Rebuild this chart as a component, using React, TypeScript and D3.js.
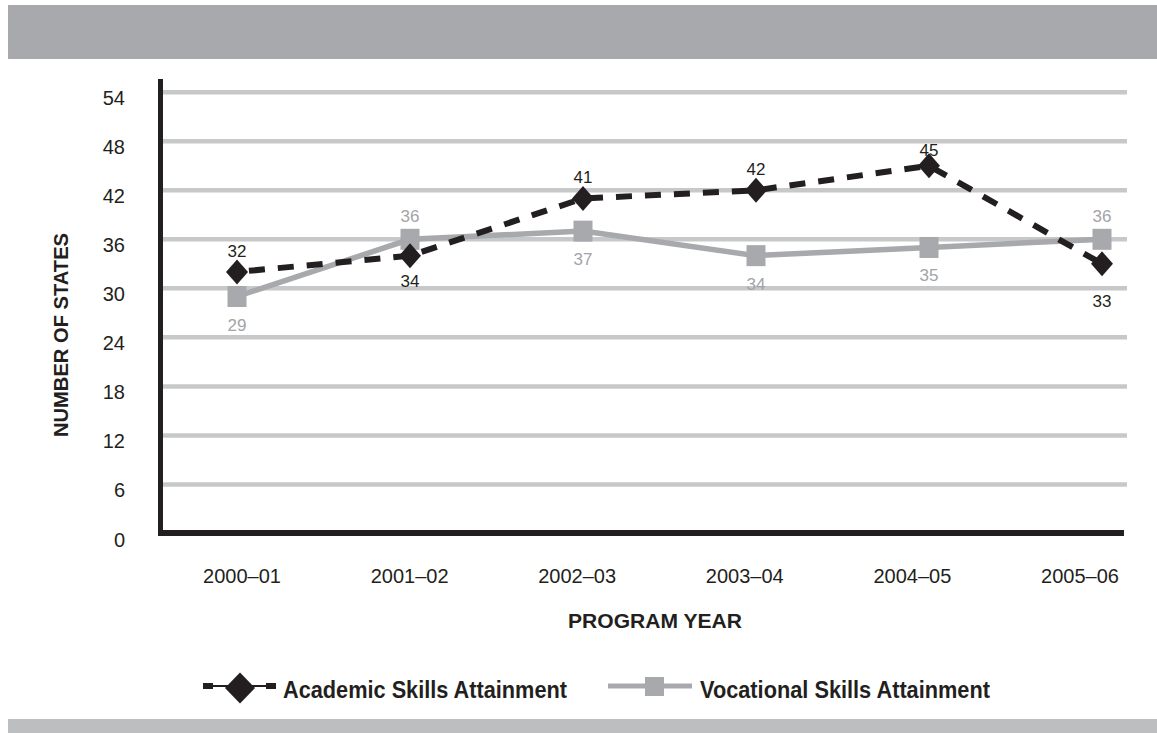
import React from "react";
import * as d3 from "d3";

const years = ["2000–01", "2001–02", "2002–03", "2003–04", "2004–05", "2005–06"];
const academic = [32, 34, 41, 42, 45, 33];
const vocational = [29, 36, 37, 34, 35, 36];
const yTicks = [0, 6, 12, 18, 24, 30, 36, 42, 48, 54];
const academicLabelPos = ["above", "below", "above", "above", "above", "below"];
const vocationalLabelPos = ["below", "above", "below", "below", "below", "above"];

const W = 1157;
const H = 733;
const FONT = "'Liberation Sans', Arial, Helvetica, sans-serif";
const DARK = "#231f20";
const GRAY = "#a7a9ac";
const GRID = "#c7c8ca";

export default function App() {
  const x = d3.scalePoint<string>().domain(years).range([237, 1102]);
  const xLabel = d3.scalePoint<string>().domain(years).range([242, 1080]);
  const y = d3.scaleLinear().domain([0, 54]).range([533.5, 92.2]);

  const lineA = d3
    .line<number>()
    .x((_, i) => x(years[i]) as number)
    .y((d) => y(d));

  const diamond = (cx: number, cy: number, w: number, h: number) =>
    `M${cx},${cy - h / 2}L${cx + w / 2},${cy}L${cx},${cy + h / 2}L${cx - w / 2},${cy}Z`;

  const dyAcad = (pos: string, v: number) => {
    if (pos === "above") return v === 45 ? -10 : -15;
    return v === 33 ? 43 : 31;
  };
  const dyVoc = (pos: string) => (pos === "above" ? -17 : 34);

  return (
    <svg
      width={W}
      height={H}
      style={{ position: "absolute", left: 0, top: 0, background: "#fff" }}
      fontFamily={FONT}
    >
      <rect x={8} y={5} width={W - 8} height={54} fill="#a7a9ac" />
      <rect x={8} y={719} width={W - 8} height={14} fill="#bcbec0" />

      {/* gridlines */}
      {yTicks
        .filter((t) => t > 0)
        .map((t) => (
          <line key={t} x1={163} x2={1127} y1={y(t)} y2={y(t)} stroke={GRID} strokeWidth={4.5} />
        ))}

      {/* axes */}
      <line x1={160.5} x2={160.5} y1={79} y2={536} stroke={DARK} strokeWidth={5} />
      <line x1={158} x2={1124} y1={533} y2={533} stroke={DARK} strokeWidth={6} />

      {/* y tick labels */}
      {yTicks.map((t) => (
        <text key={t} x={125} y={y(t) + 6 + 7} textAnchor="end" fontSize={20} fill={DARK}>
          {t}
        </text>
      ))}

      {/* x tick labels */}
      {years.map((yr) => (
        <text key={yr} x={xLabel(yr)} y={583} textAnchor="middle" fontSize={20} fill={DARK}>
          {yr}
        </text>
      ))}

      <text
        x={655}
        y={628}
        textAnchor="middle"
        fontSize={21}
        fontWeight="bold"
        fill={DARK}
        textLength={174}
        lengthAdjust="spacingAndGlyphs"
      >
        PROGRAM YEAR
      </text>
      <text
        transform="translate(68,335) rotate(-90)"
        textAnchor="middle"
        fontSize={21}
        fontWeight="bold"
        fill={DARK}
        textLength={204}
        lengthAdjust="spacingAndGlyphs"
      >
        NUMBER OF STATES
      </text>

      {/* vocational line */}
      <path d={lineA(vocational) || ""} fill="none" stroke={GRAY} strokeWidth={5.5} />
      {/* academic dashed line */}
      <path
        d={lineA(academic) || ""}
        fill="none"
        stroke={DARK}
        strokeWidth={6}
        strokeDasharray="16 13"
        strokeDashoffset={-12}
      />

      {vocational.map((v, i) => (
        <rect
          key={"vs" + i}
          x={(x(years[i]) as number) - 9.5}
          y={y(v) - 10.5}
          width={19}
          height={21}
          fill={GRAY}
        />
      ))}
      {academic.map((v, i) => (
        <path key={"ad" + i} d={diamond(x(years[i]) as number, y(v), 22, 25)} fill={DARK} />
      ))}

      {academic.map((v, i) => (
        <text
          key={"al" + i}
          x={x(years[i])}
          y={y(v) + dyAcad(academicLabelPos[i], v)}
          textAnchor="middle"
          fontSize={17}
          fill={DARK}
        >
          {v}
        </text>
      ))}
      {vocational.map((v, i) => (
        <text
          key={"vl" + i}
          x={x(years[i])}
          y={y(v) + dyVoc(vocationalLabelPos[i])}
          textAnchor="middle"
          fontSize={17}
          fill="#a2a4a7"
        >
          {v}
        </text>
      ))}

      {/* legend */}
      <g>
        <line x1={203} x2={275} y1={686} y2={686} stroke={DARK} strokeWidth={2} />
        <rect x={203} y={683} width={10} height={6} fill={DARK} />
        <rect x={266} y={683} width={10} height={6} fill={DARK} />
        <path d={diamond(240, 688, 30, 31)} fill={DARK} />
        <text
          x={283}
          y={698}
          fontSize={23}
          fontWeight="bold"
          fill={DARK}
          textLength={284}
          lengthAdjust="spacingAndGlyphs"
        >
          Academic Skills Attainment
        </text>

        <line x1={608} x2={692} y1={686} y2={686} stroke={GRAY} strokeWidth={5} />
        <rect x={645} y={677} width={19} height={19} fill={GRAY} />
        <text
          x={700}
          y={698}
          fontSize={23}
          fontWeight="bold"
          fill={DARK}
          textLength={290}
          lengthAdjust="spacingAndGlyphs"
        >
          Vocational Skills Attainment
        </text>
      </g>
    </svg>
  );
}
